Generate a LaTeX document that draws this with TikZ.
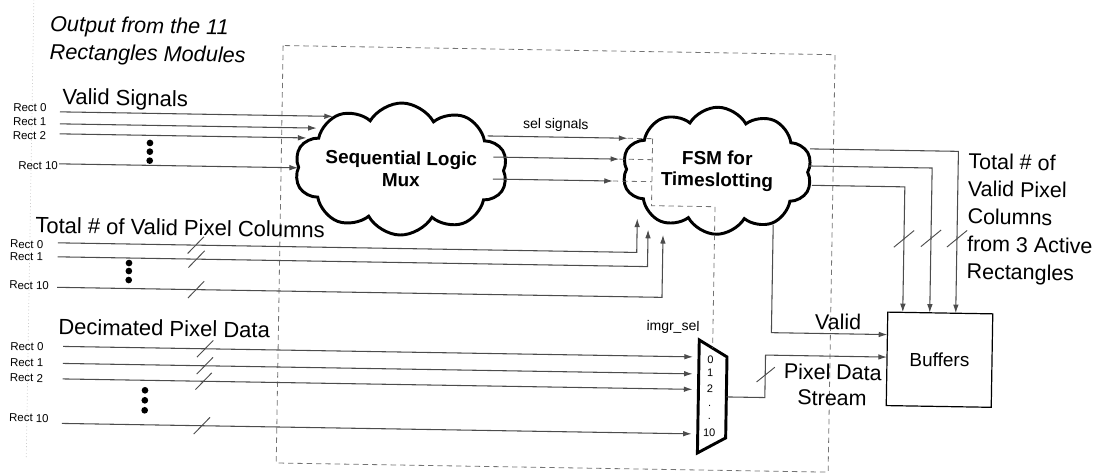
\documentclass[tikz,border=0pt]{standalone}
\usepackage{fontspec}
\setmainfont{Liberation Sans}
\usetikzlibrary{shapes.symbols,arrows.meta}
\newcommand{\busslash}[2]{\draw[busmark] (#1-8,#2+8.5) -- (#1+8,#2-8.5);}
\newcommand{\busslashv}[2]{\draw[busmark] (#1-10,#2+8.5) -- (#1+10,#2-8.5);}
\begin{document}
\begin{tikzpicture}[x=0.75pt,y=-0.75pt,
  sig/.style={draw=black!70, line width=0.8pt},
  arr/.style={sig, -{Latex[length=6.5pt,width=4.2pt]}},
  dsh/.style={draw=black!55, line width=0.6pt, dash pattern=on 4pt off 3pt},
  rectlbl/.style={font=\fontsize{8.6}{9.5}\selectfont, inner sep=0pt, anchor=west},
  head/.style={font=\fontsize{16.5}{20}\selectfont, inner sep=0pt, anchor=base west},
  rtext/.style={font=\fontsize{16.1}{20}\selectfont, inner sep=0pt, anchor=base west},
  small/.style={font=\fontsize{10.5}{12}\selectfont, inner sep=0pt},
  muxnum/.style={font=\fontsize{8.25}{9}\selectfont, inner sep=0pt},
  cloudbox/.style={cloud, cloud puffs=10, cloud puff arc=120, cloud ignores aspect, draw=black, line width=2.2pt, align=center, inner sep=0pt, font=\bfseries\fontsize{14.2}{16.5}\selectfont},
  busmark/.style={draw=black!70, line width=0.7pt},
  bigdot/.style={fill=black}
]
\useasboundingbox (0,0) rectangle (1099,473);
\begin{scope}[rotate around={-0.95:(550,236)}, transform shape]

% frames
\draw[black!30, dotted, line width=0.5pt] (30,5) -- (30,468);
\draw[dsh] (280,50) rectangle (832,467.5);

% titles
\node[head, font=\itshape\fontsize{16.2}{20}\selectfont] (t1) at (46.6,39.8) {Output from the 11};
\node[head, font=\itshape\fontsize{16.2}{20}\selectfont] (t2) at (46.6,67.6) {Rectangles Modules};
\node[head] (hv) at (59.9,112.5) {Valid Signals};
\node[head] (ht) at (35,241.5) {Total \# of Valid Pixel Columns};
\node[head] (hd) at (59.7,342.5) {Decimated Pixel Data};

% clouds
\node[cloudbox, minimum width=144pt, minimum height=99pt] (seq) at (400,171.5) {Sequential Logic\\Mux};
\node[cloudbox, minimum width=142.5pt, minimum height=95.25pt] (fsm) at (716,168) {FSM for\\Timeslotting};

% buffers
\node[draw=black, line width=0.9pt, minimum width=78.75pt, minimum height=70.1pt, font=\fontsize{14.25}{16}\selectfont] (buf) at (941.5,353.25) {Buffers};

% mux
\coordinate (mTL) at (701,337.5);
\coordinate (mTR) at (729,354);
\coordinate (mBR) at (729,435);
\coordinate (mBL) at (701,450.5);
\draw[line width=2.2pt, line join=miter] (mTL) -- (mTR) -- (mBR) -- (mBL) -- cycle;
\node[muxnum] (n0) at (712.5,357.4) {0};
\node[muxnum] (n1) at (712.5,370.4) {1};
\node[muxnum] (n2) at (712.5,386.4) {2};
\node[muxnum] (nd1) at (712.5,403) {.};
\node[muxnum] (nd2) at (712.5,416) {.};
\node[muxnum] (n10) at (712.5,430.4) {10};
\node[small] (isel) at (674.5,325) {imgr\_sel};

% Valid signals
\node[rectlbl] (v0) at (11,116) {Rect 0};
\node[rectlbl] (v1) at (11,130.5) {Rect 1};
\node[rectlbl] (v2) at (11,144) {Rect 2};
\node[rectlbl] (v10) at (17,174) {Rect 10};
\coordinate (vs0) at (58,120); \coordinate (ve0) at (331,120);
\coordinate (vs1) at (58,132); \coordinate (ve1) at (315,132);
\coordinate (vs2) at (58,142); \coordinate (ve2) at (305,142);
\coordinate (vs10) at (58,172); \coordinate (ve10) at (297,172);
\draw[arr] (vs0) -- (ve0);
\draw[arr] (vs1) -- (ve1);
\draw[arr] (vs2) -- (ve2);
\draw[arr] (vs10) -- (ve10);
\fill[bigdot] (148.5,149.6) circle[radius=2.5pt];
\fill[bigdot] (148.5,158.3) circle[radius=2.5pt];
\fill[bigdot] (148.5,167.3) circle[radius=2.5pt];

% sel signals
\node[small] (sel) at (554,125) {sel signals};
\coordinate (ss0) at (486,137); \coordinate (se0) at (626,137);
\coordinate (ss1) at (492,158); \coordinate (se1) at (618,158);
\coordinate (ss2) at (492,180); \coordinate (se2) at (612,180);
\coordinate (dk0) at (651,137);
\coordinate (dk1) at (651,158);
\coordinate (dk2) at (651,180);
\coordinate (dkb) at (651,204);
\coordinate (dkr) at (714.5,204);
\coordinate (mtop) at (714.5,345.5);
\draw[arr] (ss0) -- (se0);
\draw[arr] (ss1) -- (se1);
\draw[arr] (ss2) -- (se2);
\draw[dsh] (se0) -- (dk0);
\draw[dsh] (se1) -- (dk1);
\draw[dsh] (se2) -- (dk2);
\draw[dsh] (dk0) -- (dkb) -- (dkr) -- (mtop);

% Total # columns
\node[rectlbl] (c0) at (10,253) {Rect 0};
\node[rectlbl] (c1) at (10,265.5) {Rect 1};
\node[rectlbl] (c10) at (10,294) {Rect 10};
\coordinate (cs0) at (58,251); \coordinate (ce0) at (637,217);
\coordinate (cs1) at (58,265); \coordinate (ce1) at (648,228);
\coordinate (cs10) at (58,295.5); \coordinate (ce10) at (663,233);
\draw[arr] (cs0) -| (ce0);
\draw[arr] (cs1) -| (ce1);
\draw[arr] (cs10) -| (ce10);
\busslash{196}{251}
\busslash{197}{265}
\busslash{197}{295.5}
\fill[bigdot] (129.5,270) circle[radius=2.5pt];
\fill[bigdot] (129.5,278) circle[radius=2.5pt];
\fill[bigdot] (129.5,287) circle[radius=2.5pt];

% Decimated pixel data
\node[rectlbl] (d0) at (12,355) {Rect 0};
\node[rectlbl] (d1) at (12,371.6) {Rect 1};
\node[rectlbl] (d2) at (12,386.6) {Rect 2};
\node[rectlbl] (d10) at (12,426.6) {Rect 10};
\coordinate (ds0) at (65,354.5); \coordinate (de0) at (695,354.5);
\coordinate (ds1) at (65,371.5); \coordinate (de1) at (695,371.5);
\coordinate (ds2) at (65,387); \coordinate (de2) at (695,387);
\coordinate (ds10) at (65,431.5); \coordinate (de10) at (695,431.5);
\draw[arr] (ds0) -- (de0);
\draw[arr] (ds1) -- (de1);
\draw[arr] (ds2) -- (de2);
\draw[arr] (ds10) -- (de10);
\busslash{207}{354.5}
\busslash{207}{371.5}
\busslash{206}{387}
\busslash{205}{431.5}
\fill[bigdot] (147.6,397) circle[radius=2.5pt];
\fill[bigdot] (147.6,407) circle[radius=2.5pt];
\fill[bigdot] (147.6,417) circle[radius=2.5pt];

% mux output -> buffers
\coordinate (mo) at (729,394);
\coordinate (mk) at (767.5,394);
\coordinate (pe) at (889,351.5);
\draw[arr] (mo) -- (mk) |- (pe);
\draw[busmark] (759,378.5) -- (777,363.5);
\node[rtext, anchor=center] (pd1) at (835,367.3) {Pixel Data};
\node[rtext, anchor=center] (pd2) at (834.7,393.4) {Stream};

% valid -> buffers
\coordinate (vs) at (773,221);
\coordinate (vb) at (889,329);
\draw[arr] (vs) |- (vb);
\node[rtext, anchor=center] (vl) at (839.5,317) {Valid};

% FSM outputs -> buffers
\coordinate (fa) at (808.6,144.6); \coordinate (ta) at (957,306.5);
\coordinate (fb) at (807,161.7); \coordinate (tb) at (931,306.5);
\coordinate (fc) at (811,181); \coordinate (tc) at (904,306.5);
\draw[arr] (fa) -| (ta);
\draw[arr] (fb) -| (tb);
\draw[arr] (fc) -| (tc);
\busslashv{957}{232}
\busslashv{931}{232}
\busslashv{904}{233}
\node[rtext] (r1) at (967,162) {Total \# of};
\node[rtext] (r2) at (967,189.5) {Valid Pixel};
\node[rtext] (r3) at (967,217) {Columns};
\node[rtext] (r4) at (967,244.5) {from 3 Active};
\node[rtext] (r5) at (967,272) {Rectangles};

\end{scope}
\end{tikzpicture}
\end{document}
